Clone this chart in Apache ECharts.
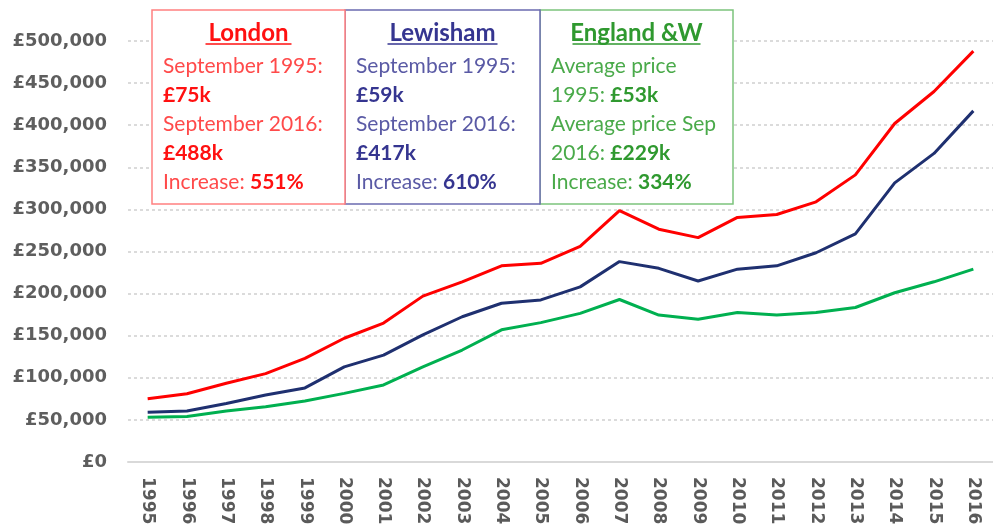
<!DOCTYPE html>
<html>
<head>
<meta charset="utf-8">
<script src="https://cdn.jsdelivr.net/npm/echarts@6/dist/echarts.min.js"></script>
<style>html,body{margin:0;padding:0;background:#fff;}#c{width:993px;height:528px;}</style>
</head>
<body>
<div id="c"></div>
<script>
var years = ['1995','1996','1997','1998','1999','2000','2001','2002','2003','2004','2005','2006','2007','2008','2009','2010','2011','2012','2013','2014','2015','2016'];
var london   = [75000, 81000, 93500, 105000, 123000, 147000, 165000, 197000, 214000, 233000, 236000, 256000, 298500, 276500, 266500, 290500, 294000, 309000, 341000, 402000, 440000, 488000];
var lewisham = [59000, 60500, 69500, 79500, 88000, 113000, 127000, 151000, 172500, 188500, 192500, 208000, 238000, 230000, 215000, 229000, 233000, 248500, 271000, 331500, 366500, 417000];
var englandW = [53000, 54000, 60500, 65500, 72500, 81500, 91500, 113000, 133000, 157000, 165500, 176500, 193000, 174500, 169500, 177500, 174500, 177500, 183500, 201000, 214000, 229000];
var yTicks = {min: 0, max: 500000, interval: 50000};

var boxTitles = ['London', 'Lewisham', 'England &W'];
var boxTexts = [
  'September 1995:\n{b|£75k}\nSeptember 2016:\n{b|£488k}\nIncrease: {b|551%}',
  'September 1995:\n{b|£59k}\nSeptember 2016:\n{b|£417k}\nIncrease: {b|610%}',
  'Average price\n1995: {b|£53k}\nAverage price Sep\n2016: {b|£229k}\nIncrease: {b|334%}'
];

var chart = echarts.init(document.getElementById('c'), null, {renderer: 'canvas'});

var boxX = [152, 345, 540, 733];
var boxTop = 10, boxBottom = 204;
var strokeC = ['#ff8080', '#6b6bb0', '#7cc47c'];
var titleC = ['#ff1010', '#353590', '#2f992f'];
var textC = ['#ff4a4a', '#5a5aa5', '#4aaa4a'];
var boldC = ['#ff1010', '#353590', '#2f992f'];
var graphics = [];
var zOrder = [3, 2, 1];
for (var i = 0; i < 3; i++) {
  var x0 = boxX[i], x1 = boxX[i + 1];
  graphics.push({
    type: 'rect', z: 100 + zOrder[i],
    shape: {x: x0, y: boxTop, width: x1 - x0, height: boxBottom - boxTop},
    style: {fill: '#fff', stroke: strokeC[i], lineWidth: 1.5}
  });
}
for (var j = 0; j < 3; j++) {
  var cx = (boxX[j] + boxX[j + 1]) / 2;
  graphics.push({
    type: 'text', z: 110, x: cx, y: 33,
    style: {text: boxTitles[j], fill: titleC[j], fontFamily: 'Lato', fontWeight: 'bold', fontSize: 24, align: 'center', verticalAlign: 'middle'}
  });
  graphics.push({
    type: 'text', z: 110, x: boxX[j] + 11, y: 52,
    style: {
      text: boxTexts[j], fill: textC[j], fontFamily: 'Lato', fontSize: 21, lineHeight: 29,
      align: 'left', verticalAlign: 'top',
      rich: {b: {fontFamily: 'Lato', fontWeight: 'bold', fontSize: 21, lineHeight: 29, fill: boldC[j]}}
    }
  });
}
var ulW = [86, 110, 128];
for (var k = 0; k < 3; k++) {
  var cx2 = (boxX[k] + boxX[k + 1]) / 2;
  graphics.push({
    type: 'line', z: 110,
    shape: {x1: cx2 - ulW[k] / 2, y1: 44, x2: cx2 + ulW[k] / 2, y2: 44},
    style: {stroke: titleC[k], lineWidth: 1.5}
  });
}

chart.setOption({
  animation: false,
  backgroundColor: '#fff',
  grid: {left: 128, top: 41, width: 869, bottom: 66, containLabel: false},
  xAxis: {
    type: 'category', data: years, boundaryGap: true,
    axisLine: {show: true, lineStyle: {color: '#d9d9d9', width: 2}},
    axisTick: {show: false},
    axisLabel: {rotate: -90, color: '#5a5a5a', fontFamily: 'DejaVu Sans', fontWeight: 'bold', fontSize: 17, margin: 15, interval: 0}
  },
  yAxis: {
    type: 'value', min: yTicks.min, max: yTicks.max, interval: yTicks.interval,
    axisLine: {show: false}, axisTick: {show: false},
    splitLine: {show: true, lineStyle: {color: '#d0d0d0', type: [3, 3], width: 1.5}},
    axisLabel: {color: '#5e5e5e', fontFamily: 'DejaVu Sans', fontWeight: 'bold', fontSize: 18, margin: 21,
      formatter: function (v) { return '£' + v.toLocaleString('en-GB'); }}
  },
  series: [
    {name: 'London', type: 'line', data: london, symbol: 'none', lineStyle: {color: '#ff0000', width: 3}, z: 3},
    {name: 'Lewisham', type: 'line', data: lewisham, symbol: 'none', lineStyle: {color: '#1f3070', width: 3}, z: 2},
    {name: 'England &W', type: 'line', data: englandW, symbol: 'none', lineStyle: {color: '#00b050', width: 3}, z: 1}
  ],
  graphic: graphics
});
</script>
</body>
</html>
